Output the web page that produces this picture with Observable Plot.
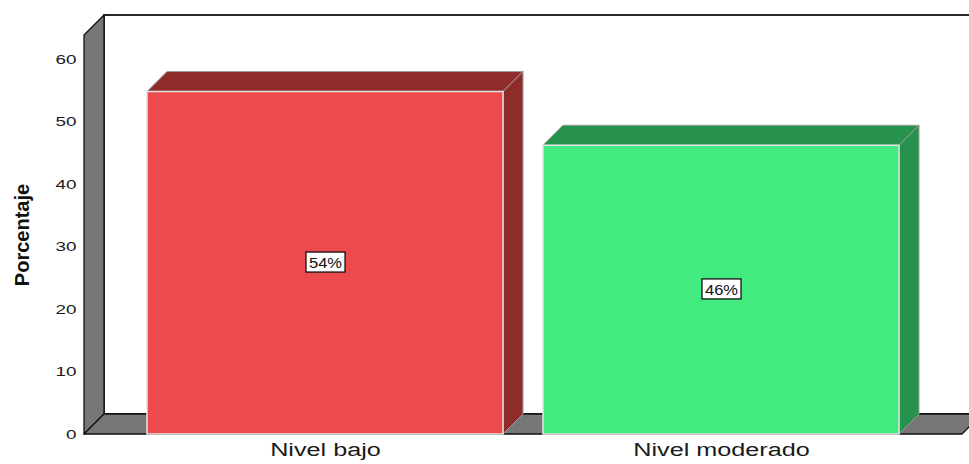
<!DOCTYPE html>
<html><head><meta charset="utf-8">
<script src="https://cdn.jsdelivr.net/npm/d3@7"></script>
<script src="https://cdn.jsdelivr.net/npm/@observablehq/plot@0.6"></script>
<style>html,body{margin:0;padding:0;background:#fff;overflow:hidden}</style>
</head><body>
<script>
const categories = ["Nivel bajo", "Nivel moderado"];
const percentages = [54.8, 46.2];
const valueLabels = ["54%", "46%"];
const yTicks = [0, 10, 20, 30, 40, 50, 60];
const yLabel = "Porcentaje";
const frontColors = ["#ec4a4c", "#42ea7f"];
const sideColors = ["#8e2c2c", "#27914e"];
const yMax = 63.84;

const data = categories.map((c, i) => ({cat: c, value: percentages[i], label: valueLabels[i], side: sideColors[i]}));
const depth = 20;

function scene(index, scales, values, dims) {
  const sx = scales.x, sy = scales.y;
  const bw = typeof sx.bandwidth === "function" ? sx.bandwidth() : sx.bandwidth;
  const L = dims.marginLeft, R = dims.width - dims.marginRight;
  const y0 = sy(0), yT = sy(yMax);
  const g = d3.create("svg:g");
  const poly = (pts, fill, stroke, sw) => g.append("polygon")
    .attr("points", pts.map(p => p.join(",")).join(" "))
    .attr("fill", fill).attr("stroke", stroke).attr("stroke-width", sw).attr("stroke-linejoin", "round");
  g.append("rect").attr("x", L + depth).attr("y", yT - depth).attr("width", R - L).attr("height", y0 - yT)
    .attr("fill", "#fff").attr("stroke", "#111").attr("stroke-width", 1.8);
  poly([[L, y0], [L, yT], [L + depth, yT - depth], [L + depth, y0 - depth]], "#777", "#111", 1.3);
  poly([[L, y0], [R, y0], [R + depth, y0 - depth], [L + depth, y0 - depth]], "#777", "#111", 1.3);
  for (const d of data) {
    const x0 = sx(d.cat), x1 = x0 + bw, yv = sy(d.value);
    poly([[x0, yv], [x1, yv], [x1 + depth, yv - depth], [x0 + depth, yv - depth]], d.side, "#9a9a9a", 1);
    poly([[x1, yv], [x1 + depth, yv - depth], [x1 + depth, y0 - depth], [x1, y0]], d.side, "#9a9a9a", 1);
  }
  return g.node();
}

const chart = Plot.plot({
  width: 969, height: 464,
  marginLeft: 84, marginRight: 7, marginTop: 35, marginBottom: 30,
  style: {fontFamily: "'Liberation Sans', Arial, sans-serif", background: "#fff", color: "#1a1a1a"},
  x: {domain: categories, paddingInner: 0.1, paddingOuter: 0.158, axis: null},
  y: {domain: [0, yMax], axis: null},
  color: {domain: categories, range: frontColors},
  marks: [
    scene,
    Plot.barY(data, {x: "cat", y: "value", fill: "cat", stroke: "#e4e4e4", strokeWidth: 1.5}),
    Plot.text(yTicks, {y: d => d, frameAnchor: "left", dx: -8, textAnchor: "end", fontSize: 13, fill: "#1a1a1a"}),
    Plot.text(categories, {x: d => d, frameAnchor: "bottom", dy: 21, fontSize: 18, fill: "#1a1a1a"}),
    Plot.text(data, {x: "cat", y: d => d.value / 2, text: "label", fontSize: 15, fill: "#111"}),
    Plot.text([yLabel], {frameAnchor: "left", dx: -62, rotate: -90, textAnchor: "middle", fontSize: 20, fontWeight: "bold", fill: "#111"})
  ]
});
document.body.append(chart);

const stretch = {"13": 1.45, "18": 1.4, "15": 1.1};
d3.select(chart).selectAll("g[font-size] text").each(function() {
  const fs = this.closest("g[font-size]").getAttribute("font-size");
  const f = stretch[fs];
  if (!f) return;
  const len = this.getComputedTextLength();
  this.setAttribute("textLength", len * f);
  this.setAttribute("lengthAdjust", "spacingAndGlyphs");
});
d3.select(chart).selectAll('g[font-size="15"] text').each(function() {
  const b = this.getBBox();
  const r = document.createElementNS("http://www.w3.org/2000/svg", "rect");
  r.setAttribute("x", b.x - 3); r.setAttribute("y", b.y - 2);
  r.setAttribute("width", b.width + 6); r.setAttribute("height", b.height + 3);
  const t = this.getAttribute("transform");
  if (t) r.setAttribute("transform", t);
  r.setAttribute("fill", "#fff"); r.setAttribute("stroke", "#111"); r.setAttribute("stroke-width", 1.3);
  this.parentNode.insertBefore(r, this);
});
</script>
</body></html>
